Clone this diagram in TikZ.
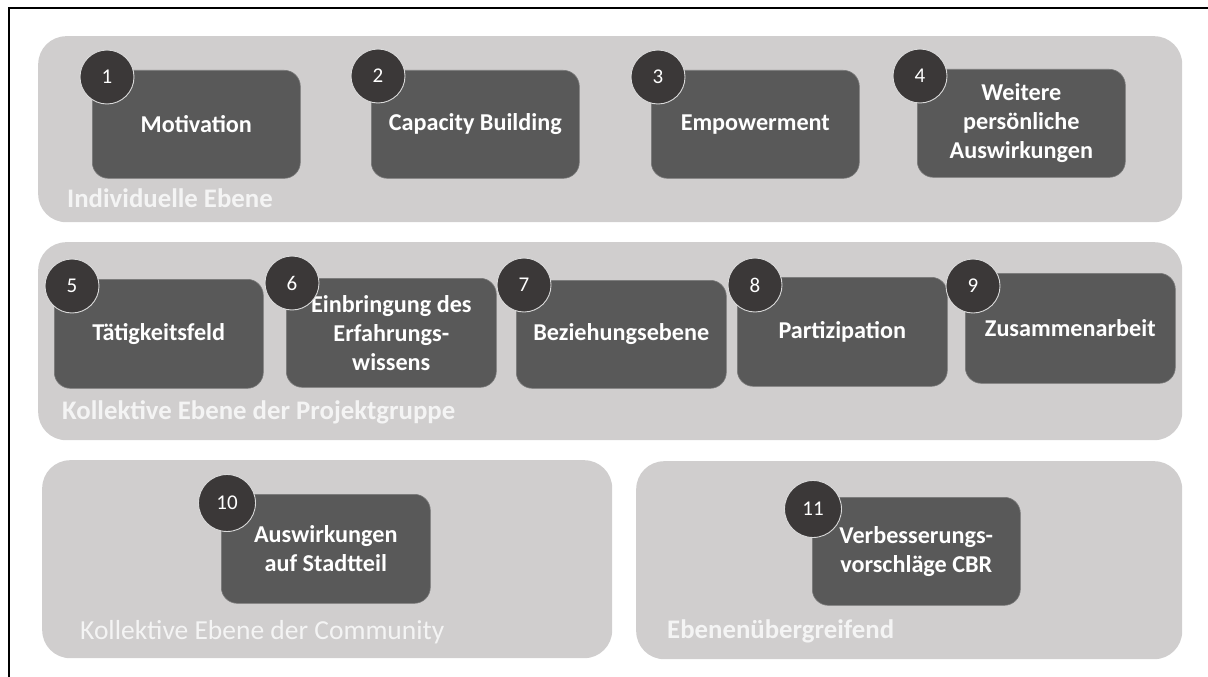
\documentclass[tikz,border=0pt]{standalone}
\usepackage{fontspec}
\setmainfont{Carlito}
\definecolor{panelgray}{HTML}{D0CECE}
\definecolor{boxgray}{HTML}{595959}
\definecolor{circgray}{HTML}{3B3838}
\definecolor{labwhite}{HTML}{F4F4F4}
\definecolor{ringgray}{HTML}{D9D9D9}
\begin{document}
\begin{tikzpicture}[x=1pt,y=-1pt,
  panel/.style={rectangle, rounded corners=28pt, fill=panelgray, draw=none, anchor=north west, inner sep=0pt},
  itembox/.style={rectangle, rounded corners=16pt, fill=boxgray, draw=boxgray!80!white, line width=0.6pt,
    anchor=north west, inner sep=0pt, text=white, align=center,
    font=\fontsize{24.2}{29}\selectfont\bfseries},
  numcirc/.style={circle, inner sep=0pt, minimum size=54pt, fill=circgray, draw=ringgray, line width=0.9pt,
    text=white, font=\fontsize{21}{24}\selectfont},
  levellabel/.style={anchor=base west, inner sep=0pt, text=labwhite, font=\fontsize{26.8}{30}\selectfont\bfseries},
  framerule/.style={line width=1.5pt, draw=black}
]
\useasboundingbox (0,0) rectangle (1208,677);
% frame
\coordinate (ftr) at (1208,8);
\coordinate (ftl) at (9,8);
\coordinate (fbl) at (9,677);
\draw[framerule] (ftr) -- (ftl) -- (fbl);

% panels
\node[panel, minimum width=1144pt, minimum height=186pt] (p1) at (38,36) {};
\node[panel, minimum width=1144pt, minimum height=198pt] (p2) at (38,242) {};
\node[panel, minimum width=570pt, minimum height=198pt] (p3) at (42,460) {};
\node[panel, minimum width=546pt, minimum height=198pt] (p4) at (636,461) {};

% level labels
\node[levellabel] (l1) at (67,207) {Individuelle Ebene};
\node[levellabel] (l2) at (62,419) {Kollektive Ebene der Projektgruppe};
\node[levellabel, font=\fontsize{27.5}{30}\selectfont] (l3) at (80,639) {Kollektive Ebene der Community};
\node[levellabel] (l4) at (667,638) {Ebenenübergreifend};

% boxes
\node[itembox, minimum width=208pt, minimum height=108pt] (b1) at (92,70) {Motivation};
\node[itembox, minimum width=208pt, minimum height=108pt] (b2) at (371,70) {Capacity Building};
\node[itembox, minimum width=208pt, minimum height=108pt] (b3) at (651,70) {Empowerment};
\node[itembox, minimum width=208pt, minimum height=108pt] (b4) at (917,69) {Weitere\\persönliche\\Auswirkungen};
\node[itembox, minimum width=209pt, minimum height=109pt] (b5) at (54,279) {Tätigkeitsfeld};
\node[itembox, minimum width=210pt, minimum height=109pt] (b6) at (286,278) {Einbringung des\\Erfahrungs-\\wissens};
\node[itembox, minimum width=210pt, minimum height=108pt] (b7) at (516,280) {Beziehungsebene};
\node[itembox, minimum width=210pt, minimum height=109pt] (b8) at (737,277) {Partizipation};
\node[itembox, minimum width=210pt, minimum height=110pt] (b9) at (965,273) {Zusammenarbeit};
\node[itembox, minimum width=209pt, minimum height=109pt] (b10) at (221,494) {Auswirkungen\\auf Stadtteil};
\node[itembox, minimum width=208pt, minimum height=108pt] (b11) at (812,497) {Verbesserungs-\\vorschläge CBR};

% number circles
\node[numcirc] (c1) at (107,77) {1};
\node[numcirc] (c2) at (378,76) {2};
\node[numcirc] (c3) at (658,77) {3};
\node[numcirc] (c4) at (920,76) {4};
\node[numcirc] (c5) at (72,286) {5};
\node[numcirc] (c6) at (292,283) {6};
\node[numcirc] (c7) at (524,285) {7};
\node[numcirc] (c8) at (755,285) {8};
\node[numcirc] (c9) at (973,286) {9};
\node[numcirc, minimum size=57pt] (c10) at (227,503) {10};
\node[numcirc, minimum size=57pt] (c11) at (813,509) {11};
\end{tikzpicture}
\end{document}
